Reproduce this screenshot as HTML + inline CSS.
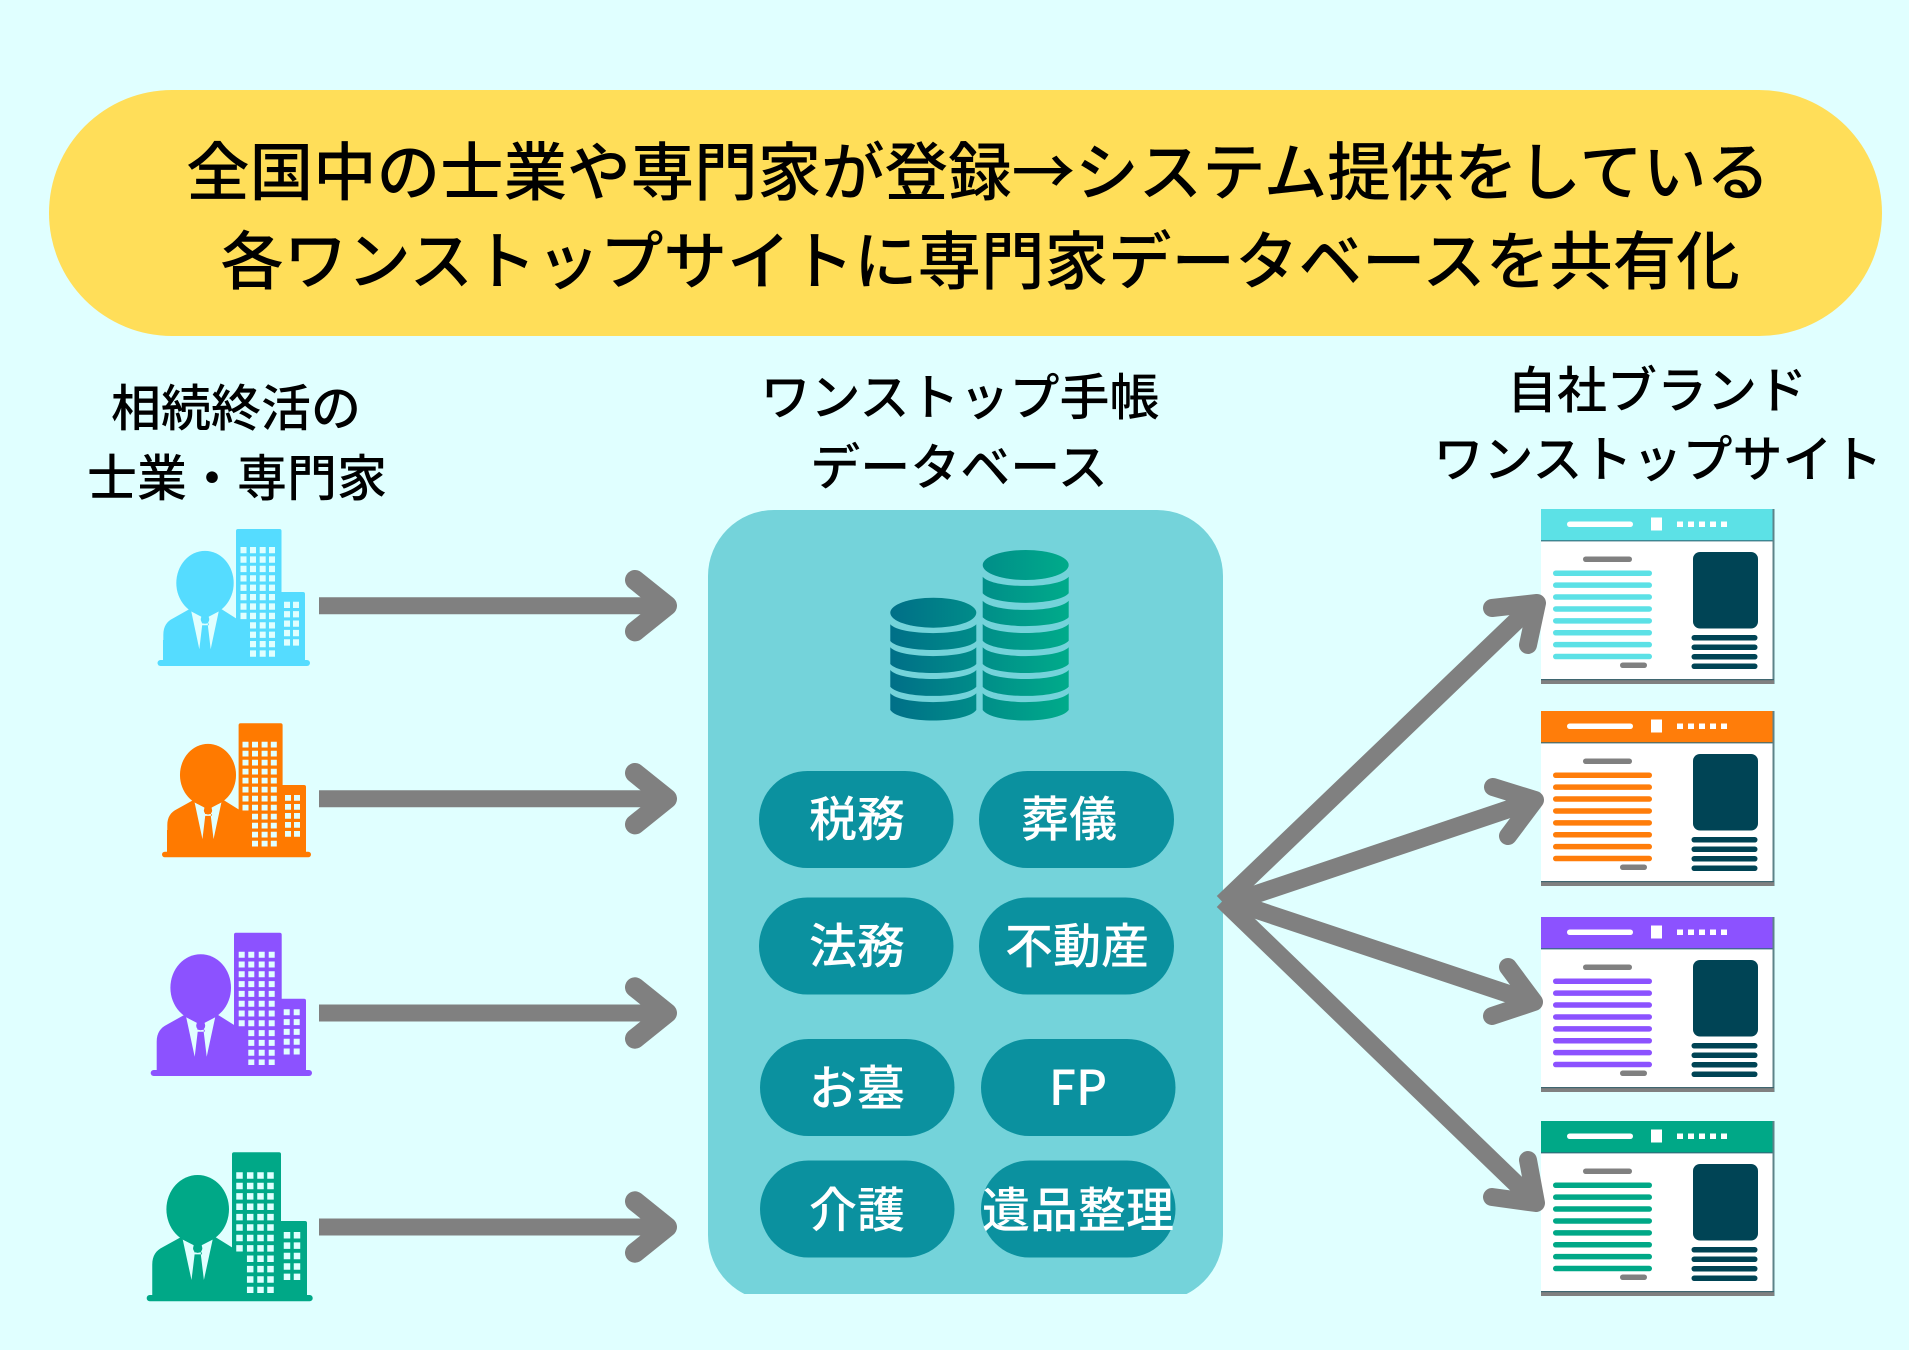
<!DOCTYPE html>
<html lang="ja">
<head>
<meta charset="utf-8">
<title>ワンストップ手帳</title>
<style>
html,body{margin:0;padding:0;background:#e0ffff}
svg{display:block}
text{font-family:"Liberation Sans","Noto Sans CJK JP",sans-serif;text-anchor:middle}
.h{font-family:"Noto Sans CJK JP",sans-serif;font-size:63.5px;font-weight:500;fill:#000}
.l{font-family:"Noto Sans CJK JP",sans-serif;font-size:50px;font-weight:500;fill:#000}
.p{font-family:"Noto Sans CJK JP",sans-serif;font-size:48px;font-weight:500;fill:#fff}
.w{fill:none;stroke:#e0ffff}
</style>
</head>
<body>
<svg xmlns="http://www.w3.org/2000/svg" width="1909" height="1350" viewBox="0 0 1909 1350">
<defs>
<linearGradient id="db" gradientUnits="userSpaceOnUse" x1="890" y1="0" x2="1069" y2="0">
<stop offset="0" stop-color="#006f88"/><stop offset="1" stop-color="#00ab8a"/>
</linearGradient>
<clipPath id="pc"><rect x="700" y="500" width="530" height="794"/></clipPath>
<g id="person">
<path fill="currentColor" d="M-44 86V54C-44 45-40 40-34 37L-16 27H17L33 37H45V86Z"/>
<path fill="#e0ffff" d="M-14.5 29.5Q-8 33-4 35L-3 44L-6 69ZM14.5 29.5Q8 33 4 35L3 44L6 69ZM-4 42H4V44H-4Z"/>
<ellipse fill="currentColor" cx="0" cy="0" rx="30.3" ry="33.5"/>
<circle fill="currentColor" cx="0" cy="38" r="4.5"/>
</g>
<g id="win">
<rect x="0" y="0" width="232" height="171" fill="#fff"/>
<rect x="0" y="0" width="232" height="32" fill="currentColor"/>
<rect x="0" y="31" width="232" height="1.5" fill="#2f6a78" opacity=".75"/>
<rect x="231.5" y="0" width="2" height="175" fill="#5d8389"/>
<rect x="0" y="170" width="233" height="5" fill="#808080"/>
<rect x="0" y="170" width="233" height="1.2" fill="#3f6670"/>
<rect x="26" y="12.500" width="66" height="5.500" rx="2.700" fill="#fff"/>
<rect x="110" y="8.500" width="11" height="13" fill="#fff"/>
<rect x="136" y="12.500" width="6" height="5.500" fill="#fff"/>
<rect x="147" y="12.500" width="6" height="5.500" fill="#fff"/>
<rect x="158" y="12.500" width="6" height="5.500" fill="#fff"/>
<rect x="169" y="12.500" width="6" height="5.500" fill="#fff"/>
<rect x="180" y="12.500" width="6" height="5.500" fill="#fff"/>
<rect x="42" y="47.500" width="49" height="5.500" rx="2.700" fill="#808080"/>
<rect x="12" y="61.500" width="99" height="5.500" rx="2.700" fill="currentColor"/>
<rect x="12" y="73.400" width="99" height="5.500" rx="2.700" fill="currentColor"/>
<rect x="12" y="85.300" width="99" height="5.500" rx="2.700" fill="currentColor"/>
<rect x="12" y="97.200" width="99" height="5.500" rx="2.700" fill="currentColor"/>
<rect x="12" y="109.100" width="99" height="5.500" rx="2.700" fill="currentColor"/>
<rect x="12" y="121" width="99" height="5.500" rx="2.700" fill="currentColor"/>
<rect x="12" y="132.900" width="99" height="5.500" rx="2.700" fill="currentColor"/>
<rect x="12" y="144.800" width="99" height="5.500" rx="2.700" fill="currentColor"/>
<rect x="79" y="153.500" width="27" height="5.500" rx="2.700" fill="#808080"/>
<rect x="152" y="43" width="65" height="76.500" rx="7" fill="#004455"/>
<rect x="150.500" y="126" width="66" height="5.500" rx="2.700" fill="#004455"/>
<rect x="150.500" y="135.500" width="66" height="5.500" rx="2.700" fill="#004455"/>
<rect x="150.500" y="145" width="66" height="5.500" rx="2.700" fill="#004455"/>
<rect x="150.500" y="154.500" width="66" height="5.500" rx="2.700" fill="#004455"/>
</g>
</defs>

<rect width="1909" height="1350" fill="#e0ffff"/>

<!-- header -->
<rect x="49" y="90" width="1833" height="246" rx="123" fill="#ffde59"/>
<text class="h" x="978" y="195">全国中の士業や専門家が登録→システム提供をしている</text>
<text class="h" x="980" y="284">各ワンストップサイトに専門家データベースを共有化</text>

<!-- labels -->
<text class="l" x="236" y="426">相続終活の</text>
<text class="l" x="237" y="496">士業・専門家</text>
<text class="l" x="960" y="415">ワンストップ手帳</text>
<text class="l" x="959" y="485">データベース</text>
<text class="l" x="1657" y="408">自社ブランド</text>
<text class="l" x="1658" y="477">ワンストップサイト</text>

<!-- panel -->
<rect x="708" y="510" width="515" height="791" rx="66" fill="#74d3da" clip-path="url(#pc)"/>

<!-- database icon -->
<g fill="url(#db)">
<ellipse cx="933.300" cy="612.700" rx="43" ry="15"/>
<ellipse cx="1025.700" cy="565" rx="43" ry="15"/>
<path d="M890.300 624.300C900 636 966 636 976.300 624.300V641C966 653 900 653 890.300 641Z"/>
<path d="M890.300 647.300C900 659 966 659 976.300 647.300V664C966 676 900 676 890.300 664Z"/>
<path d="M890.300 670C900 682 966 682 976.300 670V686.700C966 699 900 699 890.300 686.700Z"/>
<path d="M890.300 693.300C900 705 966 705 976.300 693.300V710C966 724 900 724 890.300 710Z"/>
<path d="M982.700 576.700C993 589 1058 589 1068.700 576.700V593.300C1058 606 993 606 982.700 593.300Z"/>
<path d="M982.700 600.700C993 613 1058 613 1068.700 600.700V617.300C1058 629 993 629 982.700 617.300Z"/>
<path d="M982.700 624C993 636 1058 636 1068.700 624V640.700C1058 653 993 653 982.700 640.700Z"/>
<path d="M982.700 647.300C993 659 1058 659 1068.700 647.300V664C1058 676 993 676 982.700 664Z"/>
<path d="M982.700 670C993 682 1058 682 1068.700 670V686.700C1058 699 993 699 982.700 686.700Z"/>
<path d="M982.700 693.300C993 705 1058 705 1068.700 693.300V710C1058 724 993 724 982.700 710Z"/>
</g>

<!-- pills -->
<g fill="#0b919f">
<rect x="759" y="771" width="194.500" height="97" rx="48.500"/>
<rect x="979" y="771" width="195" height="97" rx="48.500"/>
<rect x="759" y="897.500" width="194.500" height="97" rx="48.500"/>
<rect x="979" y="897.500" width="195" height="97" rx="48.500"/>
<rect x="760" y="1039" width="194.500" height="97" rx="48.500"/>
<rect x="981" y="1039" width="194.500" height="97" rx="48.500"/>
<rect x="760" y="1160.500" width="194.500" height="97" rx="48.500"/>
<rect x="981" y="1160.500" width="194.500" height="97" rx="48.500"/>
</g>
<text class="p" x="857" y="836">税務</text>
<text class="p" x="1069" y="836">葬儀</text>
<text class="p" x="857" y="963">法務</text>
<text class="p" x="1077" y="963">不動産</text>
<text class="p" x="857" y="1105">お墓</text>
<text class="p" x="1078" y="1105">FP</text>
<text class="p" x="857" y="1227">介護</text>
<text class="p" x="1078" y="1227">遺品整理</text>

<!-- people icons -->
<g style="color:#55dcff" fill="#55dcff">
<rect x="236" y="529" width="45.500" height="133" rx="2"/>
<rect x="270" y="592" width="35" height="70" rx="2"/>
<rect x="163" y="640" width="80" height="22"/>
<rect x="157.500" y="660" width="152.500" height="6" rx="3"/>
<use href="#person" transform="translate(205 583) scale(.947 .96)"/>
<g class="w" stroke-width="6" stroke-dasharray="6.300 3.100">
<line x1="243.500" x2="243.500" y1="547" y2="619.100"/>
<line x1="253" x2="253" y1="547" y2="656.700"/>
<line x1="262.700" x2="262.700" y1="547" y2="656.700"/>
<line x1="272" x2="272" y1="547" y2="656.700"/>
<line x1="287" x2="287" y1="601.700" y2="646"/>
<line x1="296" x2="296" y1="601.700" y2="646"/>
</g>
</g>
<g style="color:#ff7a00" fill="#ff7a00">
<rect x="238.600" y="723.300" width="44" height="131" rx="2"/>
<rect x="270" y="785" width="36" height="69" rx="2"/>
<rect x="167" y="830" width="80" height="24"/>
<rect x="162" y="851.700" width="149" height="5.600" rx="2.800"/>
<use href="#person" transform="translate(208 775) scale(.925 .93)"/>
<g class="w" stroke-width="6" stroke-dasharray="5.800 3.200">
<line x1="245.500" x2="245.500" y1="741.700" y2="813.500"/>
<line x1="255" x2="255" y1="741.700" y2="849.500"/>
<line x1="264.600" x2="264.600" y1="741.700" y2="849.500"/>
<line x1="273.800" x2="273.800" y1="741.700" y2="849.500"/>
<line x1="288" x2="288" y1="795" y2="840"/>
<line x1="297" x2="297" y1="795" y2="840"/>
</g>
</g>
<g style="color:#8c52ff" fill="#8c52ff">
<rect x="234" y="932.700" width="47.700" height="140" rx="2"/>
<rect x="270" y="998.700" width="36" height="74" rx="2"/>
<rect x="150.700" y="1070" width="161.300" height="6" rx="3"/>
<use href="#person" transform="translate(200.700 987.700)"/>
<g class="w" stroke-width="6" stroke-dasharray="6 3.800">
<line x1="241.700" x2="241.700" y1="951.700" y2="1026.300"/>
<line x1="251.300" x2="251.300" y1="951.700" y2="1065"/>
<line x1="261.700" x2="261.700" y1="951.700" y2="1065"/>
<line x1="271.700" x2="271.700" y1="951.700" y2="1065"/>
<line x1="286.700" x2="286.700" y1="1009.300" y2="1054.500"/>
<line x1="296.700" x2="296.700" y1="1009.300" y2="1054.500"/>
</g>
</g>
<g style="color:#00a887" fill="#00a887">
<rect x="232" y="1152.300" width="49" height="146" rx="2"/>
<rect x="270" y="1221" width="37" height="76" rx="2"/>
<rect x="146.700" y="1295" width="166" height="6.300" rx="3"/>
<use href="#person" transform="translate(197.700 1209.300) scale(1.033 1.025)"/>
<g class="w" stroke-width="6.500" stroke-dasharray="6.500 3.900">
<line x1="239.500" x2="239.500" y1="1172.300" y2="1251.500"/>
<line x1="250.200" x2="250.200" y1="1172.300" y2="1293"/>
<line x1="260.500" x2="260.500" y1="1172.300" y2="1293"/>
<line x1="270.500" x2="270.500" y1="1172.300" y2="1293"/>
<line x1="287" x2="287" y1="1232" y2="1280"/>
<line x1="297" x2="297" y1="1232" y2="1280"/>
</g>
</g>

<!-- browser windows -->
<use href="#win" x="1541" y="509" style="color:#5ce1e6"/>
<use href="#win" x="1541" y="711" style="color:#ff7d0a"/>
<use href="#win" x="1541" y="917" style="color:#8c52ff"/>
<use href="#win" x="1541" y="1121" style="color:#00a887"/>

<!-- left arrows -->
<g stroke="#808080" fill="none">
<g stroke-width="17">
<line x1="319" y1="605.700" x2="665" y2="605.700"/>
<line x1="319" y1="798.700" x2="665" y2="798.700"/>
<line x1="319" y1="1013" x2="665" y2="1013"/>
<line x1="319" y1="1227" x2="665" y2="1227"/>
</g>
<g stroke-width="20" stroke-linecap="round" stroke-linejoin="round">
<polyline points="635,580 667,605.700 635,631.400"/>
<polyline points="635,773 667,798.700 635,824.400"/>
<polyline points="635,987.300 667,1013 635,1038.700"/>
<polyline points="635,1201.300 667,1227 635,1252.700"/>
</g>
<!-- right arrows -->
<g stroke-width="18">
<line x1="1223" y1="902.500" x2="1533" y2="605"/>
<line x1="1224" y1="905" x2="1530" y2="802"/>
<line x1="1224" y1="899" x2="1530" y2="1001"/>
<line x1="1223" y1="900.500" x2="1532" y2="1199"/>
</g>
<g stroke-width="18" stroke-linecap="round" stroke-linejoin="round">
<polyline points="1492,608 1537,603 1528,645"/>
<polyline points="1493,787 1535,800 1508,836"/>
<polyline points="1508,967 1534,1002 1492,1016"/>
<polyline points="1528,1160 1536,1203 1492,1197"/>
</g>
</g>
</svg>
</body>
</html>
